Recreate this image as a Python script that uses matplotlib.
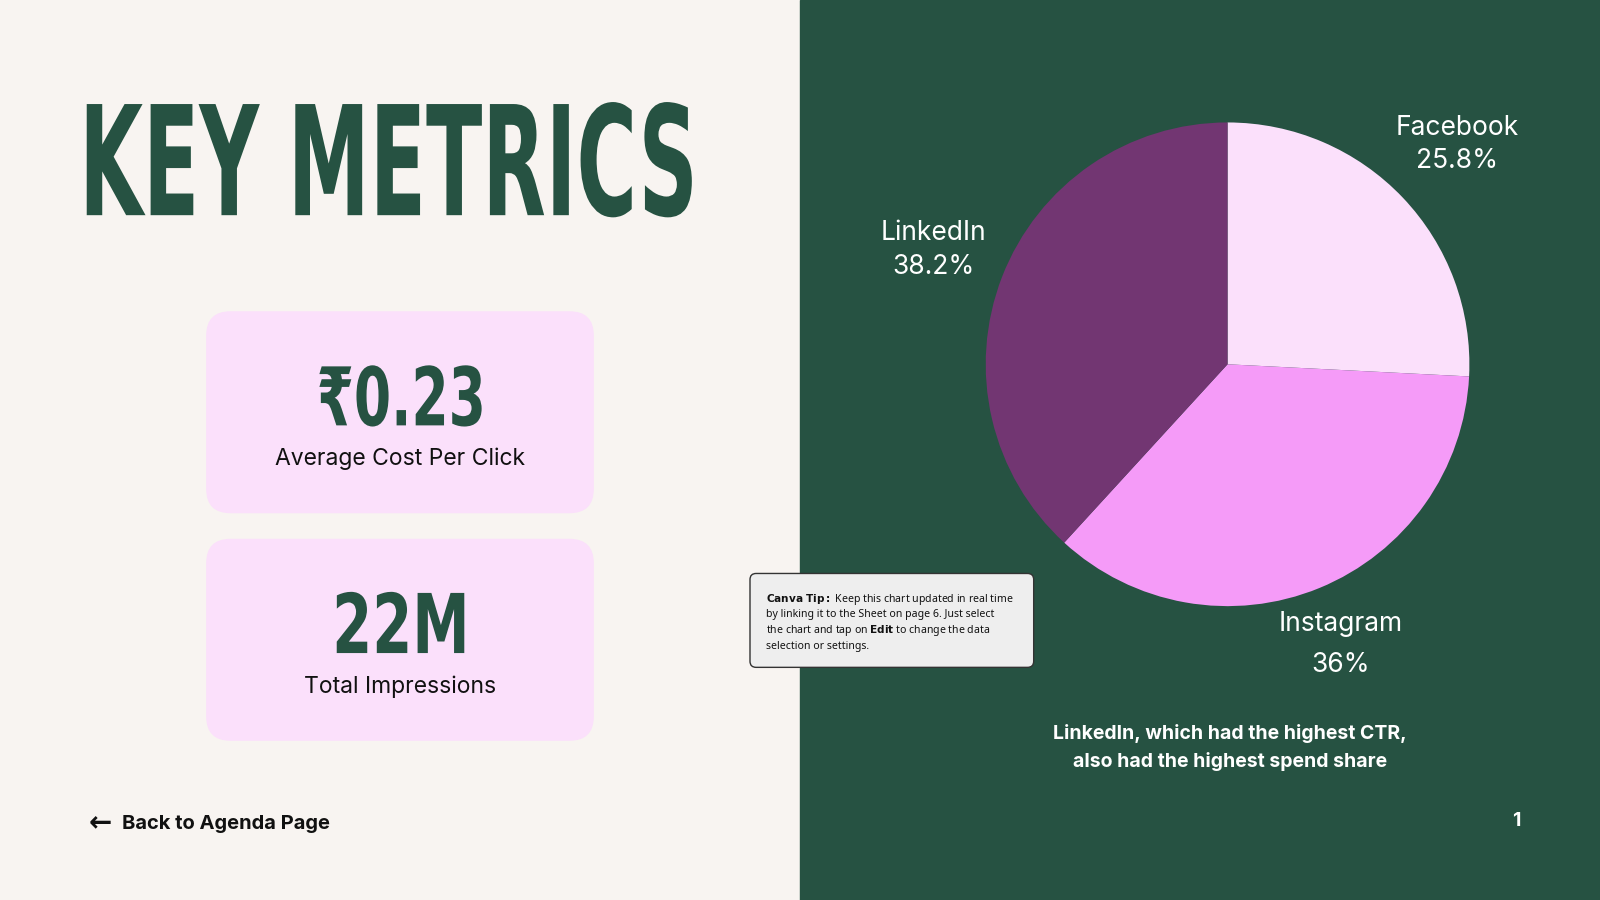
import matplotlib
matplotlib.use("Agg")
import matplotlib.pyplot as plt
from matplotlib.patches import FancyBboxPatch, Rectangle, PathPatch
from matplotlib.textpath import TextPath
from matplotlib.font_manager import FontProperties
from matplotlib.transforms import Affine2D

# data
platforms = ["Facebook", "Instagram", "LinkedIn"]
shares = [25.8, 36.0, 38.2]
share_labels = ["25.8%", "36%", "38.2%"]
slice_colors = ["#FBE0FB", "#F59BF8", "#723672"]
metric_values = ["₹0.23", "22M"]
metric_names = ["Average Cost Per Click", "Total Impressions"]

W, H = 1568, 882
GREEN = "#265242"
CARD = "#FBE0FB"

fig = plt.figure(figsize=(16, 9), dpi=100)
bg = fig.add_axes([0, 0, 1, 1])
bg.set_xlim(0, W)
bg.set_ylim(H, 0)
bg.axis("off")
bg.add_patch(Rectangle((0, 0), 784, H, color="#F8F4F1"))
bg.add_patch(Rectangle((784, 0), W - 784, H, color=GREEN))


# condensed heavy text: draw glyph outlines squeezed into a box
def squeezed(ax, s, x0, x1, top, bottom, color):
    tp = TextPath((0, 0), s, size=1, prop=FontProperties(family="DejaVu Sans", weight="heavy"))
    ext = tp.get_extents()
    sx = (x1 - x0) / ext.width
    sy = (bottom - top) / ext.height
    tr = Affine2D().translate(-ext.x0, -ext.y0).scale(sx, -sy).translate(x0, bottom)
    ax.add_patch(PathPatch(tr.transform_path(tp), color=color, lw=0))


squeezed(bg, "KEY METRICS", 85, 678, 100, 213, GREEN)

# metric cards
for i, (val, name) in enumerate(zip(metric_values, metric_names)):
    top = 305 + i * 223
    bg.add_patch(FancyBboxPatch((202, top), 380, 198, boxstyle="round,pad=0,rounding_size=24",
                                color=CARD, lw=0))
    if i == 0:
        squeezed(bg, val, 313, 472, 358, 418, GREEN)
    else:
        squeezed(bg, val, 330, 455, 580, 640, GREEN)
    bg.text(392, top + 145, name, fontsize=16.5, family="Inter", color="#111111",
            ha="center", va="center")

bg.text(87, 807, "\u2190", fontsize=20, fontweight="bold", color="#111111", va="center")
bg.text(120, 808, "Back to Agenda Page", fontsize=14.5, fontweight="bold", family="Inter",
        color="#111111", va="center")

# tip box
bg.add_patch(FancyBboxPatch((735, 562), 278, 92, boxstyle="round,pad=0,rounding_size=6",
                            facecolor="#EEEEEE", edgecolor="#333333", lw=1))
bg.text(751, 580, r"$\bf{Canva\ Tip}$$\bf{:}$ Keep this chart updated in real time" "\n"
        "by linking it to the Sheet on page 6. Just select\n"
        r"the chart and tap on $\bf{Edit}$ to change the data" "\n"
        "selection or settings.", fontsize=7.6, family="Noto Sans", color="#111111",
        va="top", ha="left", linespacing=1.3)

# pie
ph = 2 * 237 / H
pw = 2 * 237 / W
pax = fig.add_axes([1203 / W - pw / 2, 1 - 357 / H - ph / 2, pw, ph])
pax.pie(shares, colors=slice_colors, startangle=90, counterclock=False,
        wedgeprops=dict(linewidth=0))
pax.set_xlim(-1, 1)
pax.set_ylim(-1, 1)

label_pos = [(1428, 142), (1314, 632), (915, 245)]
for (x, y), name, lab in zip(label_pos, platforms, share_labels):
    bg.text(x, y, name + "\n" + lab, fontsize=19, family="Inter", color="white",
            ha="center", va="center", linespacing=1.35 if name != "Instagram" else 1.75)

bg.text(1205, 733, "LinkedIn, which had the highest CTR,\nalso had the highest spend share",
        fontsize=14, fontweight="bold", family="Inter", color="white", ha="center",
        va="center", linespacing=1.6)
bg.text(1486, 805, "1", fontsize=14, fontweight="bold", family="Inter", color="white",
        ha="center", va="center")

fig.savefig("out.png", dpi=100)
